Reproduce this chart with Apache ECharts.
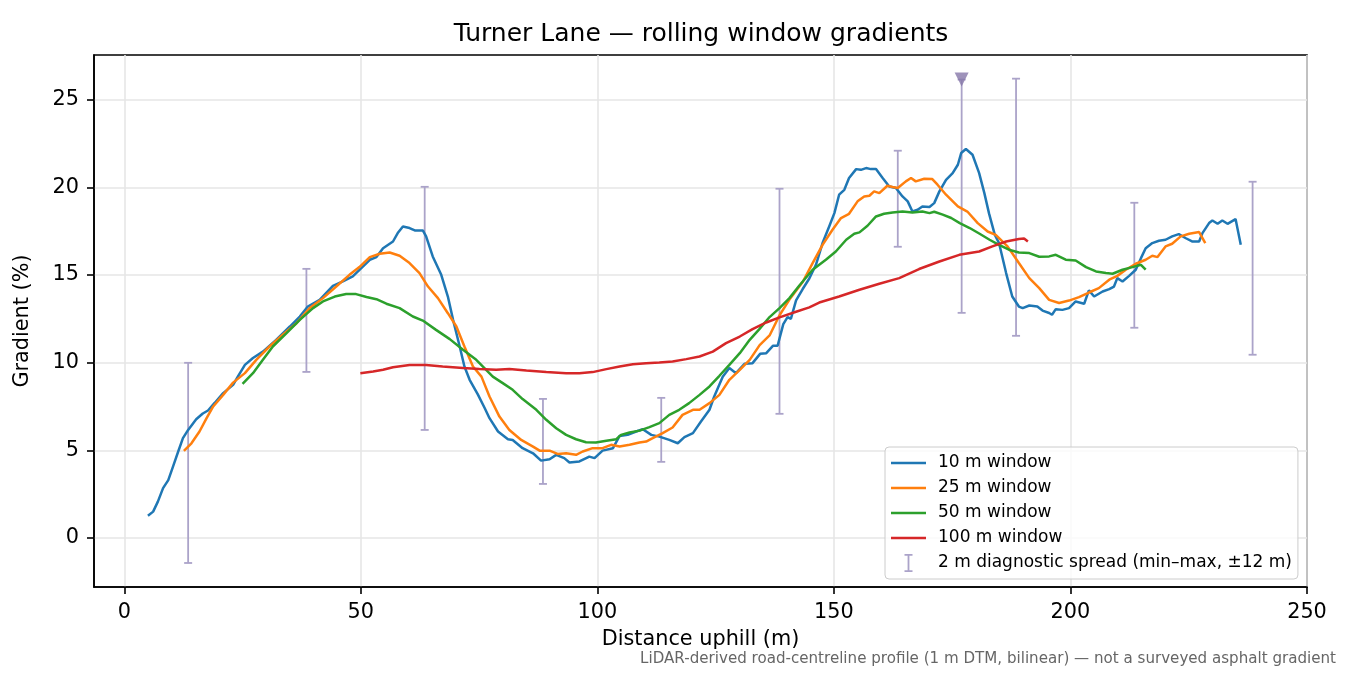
<!DOCTYPE html>
<html>
<head>
<meta charset="utf-8">
<title>Turner Lane — rolling window gradients</title>
<script src="https://cdn.jsdelivr.net/npm/echarts@6.0.0/dist/echarts.min.js"></script>
<style>
  html, body { margin: 0; padding: 0; background: #fff; }
  #main { width: 1350px; height: 675px; }
</style>
</head>
<body>
<div id="main"></div>
<script>
// 10 m window
var dist10 = [5.0, 6.1, 7.1, 8.2, 9.3, 10.3, 11.4, 12.4, 13.5, 15.2, 16.6, 17.7, 19.1, 20.9, 23.0, 24.0, 25.5, 27.2, 29.3, 32.1,
  35.0, 37.1, 38.8, 41.3, 44.1, 46.2, 48.3, 50.1, 51.9, 53.3, 54.7, 56.8, 57.8, 58.9, 60.3, 61.4, 63.1, 63.8, 65.2, 67.0,
  68.4, 69.5, 70.9, 71.9, 73.0, 74.7, 76.2, 77.2, 79.0, 81.1, 82.1, 84.2, 86.4, 88.1, 89.9, 91.3, 93.0, 94.1, 96.2, 98.3,
  99.4, 101.1, 103.3, 104.7, 106.4, 108.2, 109.6, 111.4, 113.1, 115.2, 117.0, 118.4, 120.2, 121.9, 123.7, 124.7, 126.5, 127.9, 129.3, 131.1,
  132.8, 134.4, 135.7, 137.1, 138.1, 139.3, 140.2, 140.9, 142.0, 143.4, 144.8, 146.2, 147.6, 149.0, 150.1, 151.1, 152.2, 153.2, 154.7, 155.7,
  156.8, 157.8, 158.9, 160.3, 161.7, 163.1, 164.5, 165.6, 166.6, 167.7, 168.7, 170.2, 171.2, 172.3, 173.7, 175.1, 176.2, 176.9, 177.9, 179.3,
  180.7, 181.8, 182.8, 184.0, 184.9, 186.4, 187.7, 189.1, 189.9, 191.3, 193.0, 194.1, 195.5, 196.1, 196.9, 198.3, 199.7, 201.1, 202.9, 203.9,
  205.0, 206.8, 208.2, 209.2, 209.9, 211.0, 212.4, 213.8, 214.9, 215.9, 217.3, 218.7, 220.1, 221.5, 222.9, 224.3, 225.8, 227.2, 227.9, 229.3,
  230.0, 231.1, 232.1, 233.2, 234.9, 236.0];
var grad10 = [1.26, 1.5, 2.07, 2.84, 3.3, 4.07, 4.93, 5.69, 6.16, 6.77, 7.1, 7.27, 7.7, 8.26, 8.73, 9.2, 9.87, 10.26, 10.63, 11.3,
  12.06, 12.63, 13.2, 13.58, 14.38, 14.63, 14.92, 15.39, 15.87, 16.02, 16.53, 16.91, 17.39, 17.77, 17.68, 17.54, 17.54, 17.2, 16.06, 15.01,
  13.77, 12.44, 10.92, 9.78, 9.02, 8.2, 7.4, 6.83, 6.07, 5.63, 5.59, 5.12, 4.83, 4.41, 4.49, 4.74, 4.55, 4.3, 4.36, 4.64,
  4.55, 4.98, 5.12, 5.82, 5.88, 6.07, 6.2, 5.88, 5.78, 5.59, 5.4, 5.75, 5.98, 6.64, 7.31, 8.07, 9.2, 9.69, 9.4, 9.93,
  9.97, 10.5, 10.54, 10.96, 10.96, 12.2, 12.6, 12.5, 13.55, 14.2, 14.8, 15.58, 16.82, 17.77, 18.53, 19.58, 19.86, 20.53, 21.04, 21.0,
  21.1, 21.04, 21.04, 20.53, 20.05, 19.96, 19.48, 19.2, 18.62, 18.72, 18.91, 18.88, 19.1, 19.77, 20.43, 20.81, 21.29, 21.96, 22.19, 21.86,
  20.81, 19.67, 18.5, 17.3, 16.82, 15.11, 13.77, 13.2, 13.11, 13.26, 13.2, 12.97, 12.83, 12.73, 13.05, 13.01, 13.11, 13.49, 13.36, 14.12,
  13.77, 14.06, 14.19, 14.34, 14.82, 14.63, 14.95, 15.3, 15.96, 16.53, 16.82, 16.95, 17.01, 17.2, 17.33, 17.11, 16.91, 16.91, 17.39, 17.96,
  18.11, 17.92, 18.11, 17.92, 18.19, 16.72];

// 25 m window
var dist25 = [12.6, 14.2, 15.9, 17.4, 18.8, 20.9, 23.0, 25.5, 27.9, 30.7, 33.5, 36.4, 39.2, 42.0, 44.8, 47.6, 49.7, 51.9, 54.0, 56.1,
  58.2, 60.3, 62.4, 64.2, 66.3, 68.4, 70.2, 71.9, 73.7, 75.5, 77.2, 79.3, 81.4, 83.9, 86.4, 87.8, 89.9, 91.6, 93.4, 95.5,
  96.9, 99.0, 101.1, 102.9, 104.7, 106.8, 108.9, 110.3, 111.7, 113.8, 115.9, 118.0, 120.2, 121.6, 123.7, 125.8, 127.9, 130.1, 132.2, 134.3,
  136.4, 138.5, 140.6, 143.4, 145.5, 147.6, 149.7, 151.5, 153.2, 155.0, 156.4, 157.5, 158.5, 159.6, 161.3, 162.4, 163.5, 165.2, 166.3, 167.3,
  169.1, 170.8, 171.9, 173.7, 176.2, 178.2, 180.4, 182.5, 184.2, 186.7, 189.1, 191.3, 193.4, 195.5, 197.6, 199.7, 201.8, 203.9, 206.0, 208.2,
  209.9, 211.7, 213.8, 215.9, 217.3, 218.4, 220.1, 221.5, 223.3, 225.1, 227.2, 228.5];
var grad25 = [4.97, 5.4, 6.07, 6.83, 7.5, 8.16, 8.86, 9.4, 10.16, 10.92, 11.59, 12.25, 13.11, 13.68, 14.34, 15.01, 15.45, 16.02, 16.21, 16.28,
  16.1, 15.68, 15.11, 14.34, 13.68, 12.82, 12.06, 10.92, 9.78, 9.2, 8.07, 6.92, 6.16, 5.59, 5.21, 4.98, 4.98, 4.79, 4.83, 4.74,
  4.93, 5.12, 5.12, 5.31, 5.21, 5.31, 5.44, 5.5, 5.69, 5.98, 6.3, 7.02, 7.31, 7.31, 7.69, 8.16, 9.02, 9.59, 10.16, 11.0,
  11.55, 12.7, 13.6, 14.6, 15.68, 16.72, 17.58, 18.25, 18.49, 19.2, 19.48, 19.52, 19.77, 19.67, 20.09, 20.02, 19.96, 20.34, 20.53, 20.34,
  20.49, 20.47, 20.15, 19.58, 18.91, 18.62, 17.96, 17.48, 17.29, 16.63, 15.68, 14.82, 14.25, 13.58, 13.4, 13.54, 13.74, 14.0, 14.25, 14.73,
  14.95, 15.3, 15.64, 15.87, 16.1, 16.02, 16.63, 16.78, 17.2, 17.35, 17.45, 16.82];

// 50 m window
var dist50 = [25.0, 27.2, 29.3, 31.4, 34.3, 37.1, 39.9, 42.0, 44.5, 46.9, 49.0, 51.2, 53.3, 55.4, 58.2, 61.0, 63.1, 65.9, 68.8, 71.6,
  74.4, 77.9, 80.0, 82.1, 84.2, 87.1, 89.2, 91.3, 93.4, 95.5, 97.6, 99.7, 101.9, 104.0, 105.0, 106.8, 108.9, 111.0, 113.1, 115.2,
  117.3, 119.4, 121.6, 123.7, 125.8, 127.9, 130.1, 132.2, 134.2, 136.4, 138.5, 140.6, 142.7, 145.5, 148.3, 150.4, 152.6, 154.3, 155.4, 157.1,
  158.9, 160.6, 162.4, 164.5, 166.6, 168.7, 170.2, 171.2, 173.0, 174.8, 176.6, 178.7, 180.8, 182.9, 184.9, 187.0, 189.1, 191.3, 193.4, 195.5,
  196.9, 199.0, 201.1, 203.3, 205.4, 207.5, 208.9, 211.0, 213.1, 214.9, 215.9];
var grad50 = [8.79, 9.4, 10.16, 10.92, 11.68, 12.44, 13.11, 13.49, 13.77, 13.91, 13.91, 13.74, 13.62, 13.36, 13.11, 12.63, 12.4, 11.87, 11.34, 10.73,
  10.16, 9.2, 8.83, 8.45, 7.92, 7.31, 6.74, 6.26, 5.88, 5.63, 5.46, 5.44, 5.54, 5.63, 5.88, 6.01, 6.12, 6.32, 6.55, 7.02,
  7.31, 7.69, 8.16, 8.64, 9.25, 9.87, 10.54, 11.3, 11.9, 12.6, 13.11, 13.68, 14.4, 15.3, 15.87, 16.34, 17.01, 17.35, 17.43, 17.81,
  18.34, 18.49, 18.57, 18.62, 18.57, 18.62, 18.53, 18.61, 18.44, 18.25, 17.96, 17.68, 17.35, 17.01, 16.72, 16.44, 16.28, 16.25, 16.04, 16.06,
  16.15, 15.87, 15.83, 15.45, 15.2, 15.11, 15.07, 15.3, 15.45, 15.58, 15.3];

// 100 m window
var dist100 = [49.9, 52.6, 54.7, 56.8, 60.3, 63.8, 67.3, 71.6, 75.1, 78.6, 81.4, 85.0, 89.2, 93.4, 96.2, 99.0, 101.9, 104.7, 107.5, 110.3,
  113.1, 115.9, 118.8, 121.6, 124.4, 127.2, 130.1, 132.8, 135.7, 138.5, 142.0, 144.8, 146.9, 151.1, 155.4, 159.6, 163.8, 168.0, 172.3, 176.5,
  180.7, 183.5, 186.4, 189.1, 190.2, 191.0];
var grad100 = [9.4, 9.49, 9.59, 9.74, 9.87, 9.86, 9.78, 9.69, 9.63, 9.59, 9.63, 9.55, 9.46, 9.4, 9.4, 9.46, 9.63, 9.78, 9.91, 9.97,
  10.01, 10.06, 10.2, 10.35, 10.63, 11.11, 11.49, 11.91, 12.29, 12.58, 12.9, 13.15, 13.43, 13.77, 14.16, 14.5, 14.82, 15.34, 15.77, 16.15,
  16.34, 16.63, 16.91, 17.05, 17.08, 16.91];

// 2 m diagnostic spread (min-max over +-12 m)
var spreadX = [13.5, 38.5, 63.5, 88.5, 113.5, 138.5, 163.5, 177.0, 188.5, 213.5, 238.5];
var spreadLo = [-1.43, 9.47, 6.16, 3.08, 4.34, 7.08, 16.61, 12.84, 11.53, 11.99, 10.45];
var spreadHi = [9.99, 15.35, 20.03, 7.93, 7.99, 19.92, 22.09, 26.15, 26.2, 19.12, 20.32];

// steepest 2 m point
var peakX = [177.0];
var peakY = [26.15];

var xTicks = [0, 50, 100, 150, 200, 250];
var yTicks = [0, 5, 10, 15, 20, 25];

var FONT = 'DejaVu Sans';
var spreadColor = '#aba3c9';
var peakColor = '#8677a9';
var LINE_ICON = 'path://M0,0H35V2.5H0Z';

function pairs(xs, ys) {
    return xs.map(function (x, i) { return [x, ys[i]]; });
}

function lineSeries(name, xs, ys, color) {
    return {
        name: name,
        type: 'line',
        data: pairs(xs, ys),
        showSymbol: false,
        symbol: 'none',
        color: color,
        itemStyle: { color: color },
        lineStyle: { width: 2.5, color: color },
        z: 3,
        animation: false
    };
}

function renderSpread(params, api) {
    var x = api.value(0);
    var lo = api.coord([x, api.value(1)]);
    var hi = api.coord([x, api.value(2)]);
    var half = 4;
    var style = { stroke: spreadColor, lineWidth: 1.8 };
    return {
        type: 'group',
        children: [
            { type: 'line', shape: { x1: hi[0], y1: hi[1], x2: lo[0], y2: lo[1] }, style: style },
            { type: 'line', shape: { x1: hi[0] - half, y1: hi[1], x2: hi[0] + half, y2: hi[1] }, style: style },
            { type: 'line', shape: { x1: lo[0] - half, y1: lo[1], x2: lo[0] + half, y2: lo[1] }, style: style }
        ]
    };
}

var axisCommon = {
    axisLine: { show: true, onZero: false, lineStyle: { color: '#000', width: 1.6 } },
    axisTick: { show: true, length: 7, lineStyle: { color: '#000', width: 1.6 } },
    axisLabel: { color: '#000', fontSize: 20.8, fontFamily: FONT, margin: 15 },
    splitLine: { show: true, lineStyle: { color: '#e6e6e6', width: 1.6 } },
    nameTextStyle: { color: '#000', fontSize: 20.8, fontFamily: FONT }
};

var chart = echarts.init(document.getElementById('main'), null, { renderer: 'canvas' });

var option = {
    animation: false,
    backgroundColor: '#fff',
    title: {
        text: 'Turner Lane — rolling window gradients',
        left: 696,
        top: 17,
        textAlign: 'center',
        textStyle: { color: '#000', fontSize: 25, fontWeight: 'normal', fontFamily: FONT }
    },
    grid: {
        left: 94, right: 43, top: 55, bottom: 88,
        show: true, borderColor: '#000', borderWidth: 1.6, backgroundColor: 'transparent'
    },
    legend: {
        orient: 'vertical',
        left: 885,
        top: 447,
        padding: [7, 6, 7, 6],
        itemWidth: 35,
        itemHeight: 18,
        itemGap: 7,
        backgroundColor: 'rgba(255,255,255,0.8)',
        borderColor: '#cccccc',
        borderWidth: 1,
        borderRadius: 4,
        selectedMode: false,
        textStyle: { color: '#000', fontSize: 17, fontFamily: FONT, lineHeight: 18, padding: [0, 0, 0, 7] },
        data: [
            { name: '10 m window', icon: LINE_ICON },
            { name: '25 m window', icon: LINE_ICON },
            { name: '50 m window', icon: LINE_ICON },
            { name: '100 m window', icon: LINE_ICON },
            { name: '2 m diagnostic spread (min–max, ±12 m)',
              icon: 'path://M0,0H8V1.8H4.9V16.2H8V18H0V16.2H3.1V1.8H0Z' }
        ]
    },
    xAxis: Object.assign({}, axisCommon, {
        type: 'value',
        min: -6.4,
        max: 250,
        name: 'Distance uphill (m)',
        nameLocation: 'middle',
        nameGap: 42,
        axisTick: Object.assign({}, axisCommon.axisTick, { customValues: xTicks }),
        axisLabel: Object.assign({}, axisCommon.axisLabel, { customValues: xTicks })
    }),
    yAxis: Object.assign({}, axisCommon, {
        type: 'value',
        min: -2.8,
        max: 27.55,
        name: 'Gradient (%)',
        nameLocation: 'middle',
        nameRotate: 90,
        nameGap: 61,
        axisTick: Object.assign({}, axisCommon.axisTick, { customValues: yTicks }),
        axisLabel: Object.assign({}, axisCommon.axisLabel, { customValues: yTicks })
    }),
    series: [
        {
            name: '2 m diagnostic spread (min–max, ±12 m)',
            type: 'custom',
            renderItem: renderSpread,
            itemStyle: { color: spreadColor },
            data: spreadX.map(function (x, i) { return [x, spreadLo[i], spreadHi[i]]; }),
            encode: { x: 0, y: [1, 2] },
            z: 2,
            silent: true
        },
        lineSeries('10 m window', dist10, grad10, '#1f77b4'),
        lineSeries('25 m window', dist25, grad25, '#ff7f0e'),
        lineSeries('50 m window', dist50, grad50, '#2ca02c'),
        lineSeries('100 m window', dist100, grad100, '#d62728'),
        {
            name: 'steepest',
            type: 'scatter',
            data: pairs(peakX, peakY),
            symbol: 'triangle',
            symbolRotate: 180,
            symbolSize: 14,
            itemStyle: { color: peakColor },
            z: 4,
            silent: true
        }
    ],
    graphic: [
        {
            type: 'text',
            right: 14,
            top: 652,
            style: {
                text: 'LiDAR-derived road-centreline profile (1 m DTM, bilinear) — not a surveyed asphalt gradient',
                fill: '#666666',
                fontSize: 15.1,
                fontFamily: FONT
            }
        }
    ]
};

chart.setOption(option);
</script>
</body>
</html>
